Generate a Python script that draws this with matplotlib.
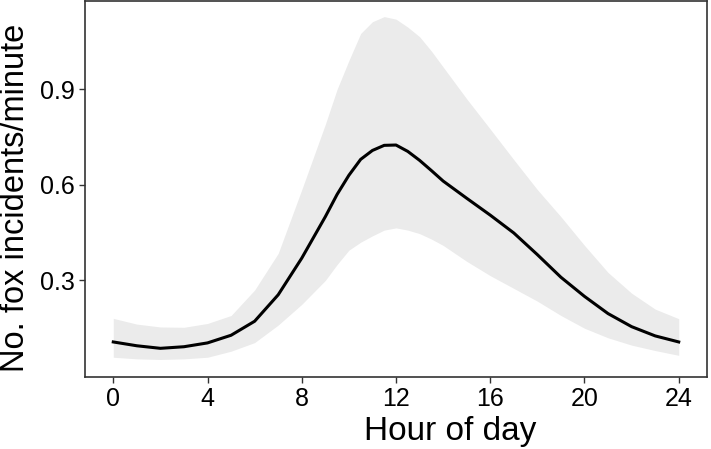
import numpy as np
import matplotlib
matplotlib.use("Agg")
import matplotlib.pyplot as plt

plt.rcParams["font.family"] = ["Liberation Sans", "DejaVu Sans"]

# fitted rate with confidence band (denser near the peak)
hours = [0, 1, 2, 3, 4, 5, 6, 7, 8, 9, 9.5, 10, 10.5, 11, 11.5, 12, 12.5,
         13, 13.5, 14, 15, 16, 17, 18, 19, 20, 21, 22, 23, 24]
fit = [0.107, 0.095, 0.087, 0.092, 0.104, 0.128, 0.172, 0.255, 0.37, 0.50,
       0.57, 0.63, 0.68, 0.708, 0.724, 0.725, 0.705, 0.677, 0.645, 0.612,
       0.558, 0.505, 0.449, 0.381, 0.31, 0.25, 0.196, 0.155, 0.126, 0.107]
upper = [0.181, 0.163, 0.154, 0.153, 0.165, 0.19, 0.27, 0.385, 0.585, 0.79,
         0.90, 0.99, 1.075, 1.112, 1.128, 1.12, 1.095, 1.065, 1.02, 0.97,
         0.87, 0.775, 0.679, 0.585, 0.50, 0.41, 0.325, 0.26, 0.21, 0.18]
lower = [0.059, 0.054, 0.052, 0.054, 0.059, 0.078, 0.105, 0.16, 0.225, 0.30,
         0.35, 0.395, 0.42, 0.44, 0.458, 0.465, 0.458, 0.447, 0.43, 0.41,
         0.36, 0.315, 0.275, 0.235, 0.19, 0.15, 0.12, 0.097, 0.08, 0.065]
xticks = [0, 4, 8, 12, 16, 20, 24]
yticks = [0.3, 0.6, 0.9]

fig = plt.figure(figsize=(7.11, 4.49), dpi=100)
ax = fig.add_axes([85 / 711, 72 / 449, 622 / 711, 376 / 449])
ax.fill_between(hours, lower, upper, color="#ebebeb", linewidth=0)
ax.plot(hours, fit, color="black", lw=2.2, solid_joinstyle="round")

ax.set_xlim(-1.2, 25.2)
ax.set_ylim(-0.003, 1.177)
ax.set_xticks(xticks)
ax.set_yticks(yticks)
ax.set_yticklabels([f"{v:.1f}" for v in yticks])
ax.tick_params(labelsize=18, length=4.5, width=1.0, color="#333333", pad=3)
for s in ax.spines.values():
    s.set_color("#333333"); s.set_linewidth(1.2)

ax.set_xlabel("Hour of day", fontsize=24, labelpad=2)
ax.xaxis.set_label_coords(0.587, -0.105, transform=ax.transAxes)
ax.xaxis.label.set_va("top")
ax.set_ylabel("No. fox incidents/minute", fontsize=23.5)
ax.yaxis.set_label_coords(-0.087, 0.476, transform=ax.transAxes)

fig.savefig("out.png", dpi=100)
